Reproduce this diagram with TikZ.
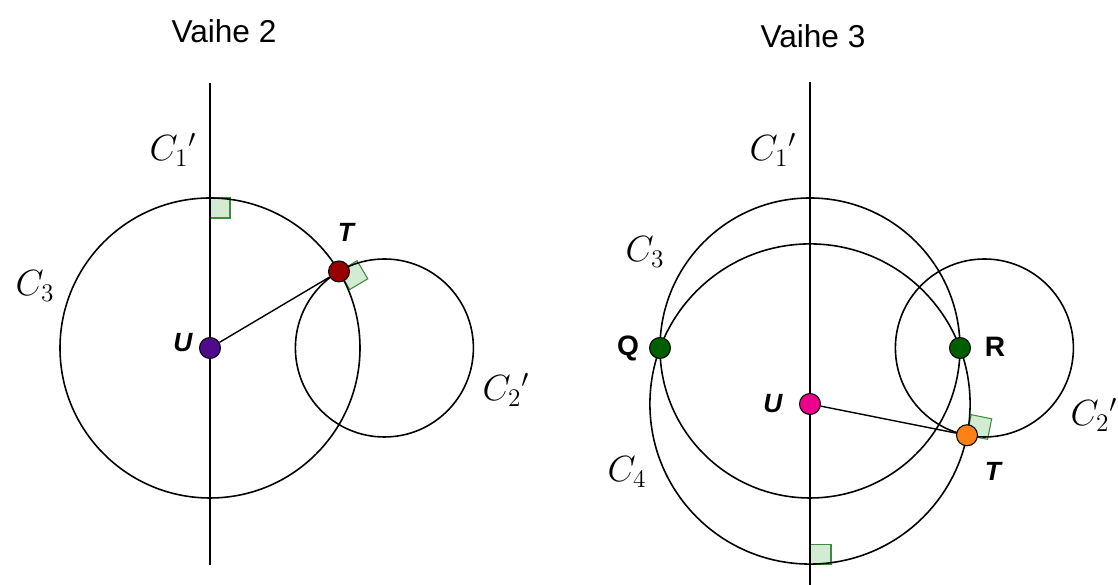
\documentclass[tikz,border=0pt]{standalone}
\usepackage{fontspec}
\setsansfont{Liberation Sans}
\usetikzlibrary{calc}
\definecolor{darkred}{RGB}{150,0,0}
\definecolor{indigo}{RGB}{80,10,140}
\definecolor{pointgreen}{RGB}{0,95,0}
\definecolor{pointorange}{RGB}{255,128,20}
\definecolor{anglegreen}{RGB}{210,235,210}
\definecolor{anglestroke}{RGB}{60,140,60}
\tikzset{
    geo/.style={line width=0.9pt},
    dot/.style={circle, draw=black, line width=0.6pt, inner sep=0pt, minimum size=0.42cm},
    rmark/.style={draw=anglestroke, fill=anglegreen, line width=0.6pt},
    title/.style={font=\sffamily\fontsize{18}{22}\selectfont},
    plabel/.style={font=\sffamily\bfseries\itshape\fontsize{15}{18}\selectfont},
    qlabel/.style={font=\sffamily\bfseries\fontsize{16}{19}\selectfont},
    clabel/.style={font=\huge}
}

\begin{document}
\begin{tikzpicture}
        \useasboundingbox (0,0) rectangle (22.36,11.7);

        % Vaihe 2: C3 round U, C2' orthogonal to it at T
        \coordinate (U2) at (4.2,4.74);
        \coordinate (K2) at ($(U2)+(0:3.488)$);
        \coordinate (T2) at ($(U2)+(30.68:3)$);
        \coordinate (top2) at (4.2,10.04);
        \coordinate (bot2) at (4.2,0.4);
        \node[title] (vaihe2) at (4.48,11.08) {Vaihe 2};

        % Right angle marks
        \draw[rmark] ($(U2)+(0,3)$) rectangle ++(0.4,-0.4);
        \draw[rmark, shift={(T2)}, rotate=30.68] (0,0) rectangle (0.42,-0.42);

        % Line C1' and the circles
        \draw[geo] (top2) -- (bot2);
        \draw[geo] (U2) circle[radius=3];
        \draw[geo] (K2) circle[radius=1.78];

        % Points and labels
        \node[dot, fill=indigo] (U2d) at (U2) {};
        \node[dot, fill=darkred] (T2d) at (T2) {};
        \draw[line width=0.8pt] (U2d) -- (T2d);
        \node[plabel] (U2l) at (3.66,4.84) {U};
        \node[plabel] (T2l) at (6.92,7.06) {T};
        \node[clabel] (C1a) at (3.46,8.7) {$C_1{}'$};
        \node[clabel] (C3a) at (0.7,5.98) {$C_3$};
        \node[clabel] (C2a) at (10.12,3.9) {$C_2{}'$};

        % Vaihe 3: C4 round U, orthogonal to C2' at T
        \coordinate (K3) at (16.2,4.74);
        \coordinate (U3) at (16.2,3.62);
        \coordinate (M3) at ($(K3)+(0:3.488)$);
        \coordinate (T3) at ($(U3)+(-11.27:3.2018)$);
        \coordinate (Q3) at ($(K3)+(180:3)$);
        \coordinate (R3) at ($(K3)+(0:3)$);
        \coordinate (top3) at (16.2,10.06);
        \coordinate (bot3) at (16.2,0);
        \node[title] (vaihe3) at (16.26,10.98) {Vaihe 3};

        % Right angle marks
        \draw[rmark] ($(U3)+(0,-3.2018)$) rectangle ++(0.42,0.4);
        \draw[rmark, shift={(T3)}, rotate=-11.27] (0,0) rectangle (0.42,0.42);

        % Line C1' and the circles
        \draw[geo] (top3) -- (bot3);
        \draw[geo] (K3) circle[radius=3];
        \draw[geo] (U3) circle[radius=3.2018];
        \draw[geo] (M3) circle[radius=1.78];

        % Points and labels
        \node[dot, fill=pointgreen] (Qd) at (Q3) {};
        \node[dot, fill=pointgreen] (Rd) at (R3) {};
        \node[dot, fill=magenta] (U3d) at (U3) {};
        \node[dot, fill=pointorange] (T3d) at (T3) {};
        \draw[line width=0.8pt] (U3d) -- (T3d);
        \node[qlabel] (Ql) at (12.56,4.74) {Q};
        \node[qlabel] (Rl) at (19.9,4.76) {R};
        \node[plabel] (U3l) at (15.46,3.62) {U};
        \node[plabel] (T3l) at (19.86,2.28) {T};
        \node[clabel] (C1b) at (15.46,8.7) {$C_1{}'$};
        \node[clabel] (C3b) at (12.9,6.66) {$C_3$};
        \node[clabel] (C4b) at (12.54,2.26) {$C_4$};
        \node[clabel] (C2b) at (21.88,3.4) {$C_2{}'$};

    \end{tikzpicture}
\end{document}
